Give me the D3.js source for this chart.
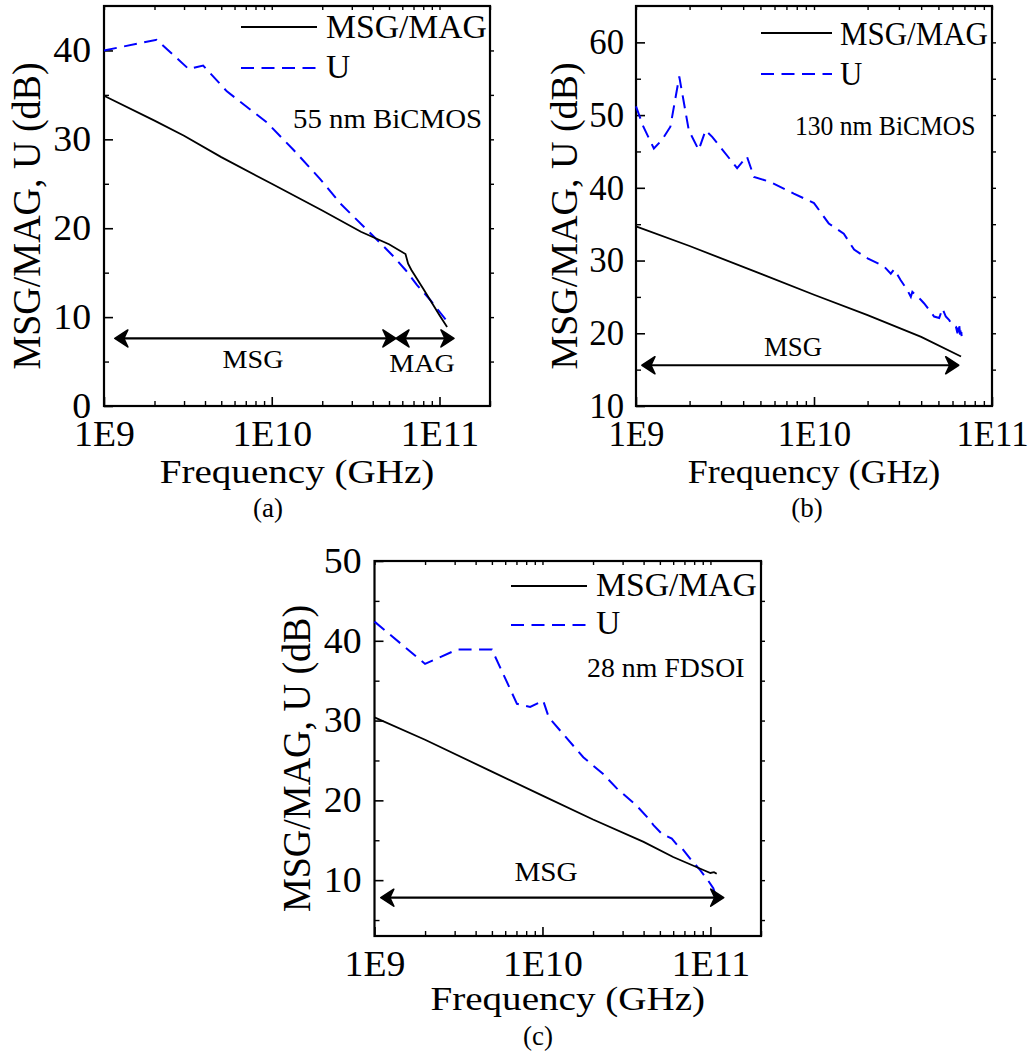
<!DOCTYPE html>
<html><head><meta charset="utf-8">
<script src="https://cdn.jsdelivr.net/npm/d3@7"></script>
<style>html,body{margin:0;padding:0;background:#fff}svg{display:block}</style>
</head><body>
<script>
// ---------------- DATA ----------------
const xTickLabels = ["1E9", "1E10", "1E11"];
const xMajor = [1e9, 1e10, 1e11];

// Panel (a) 55 nm BiCMOS
const aMsgFreq = [1e9, 2e9, 3e9, 5e9, 1e10, 2e10, 3.4e10, 5e10, 6.27e10, 6.5e10, 6.8e10, 8e10, 1e11, 1.11e11];
const aMsgGain = [34.9, 32.1, 30.4, 28.0, 25.0, 22.0, 19.6, 18.2, 17.1, 16.0, 15.3, 13.2, 10.2, 8.9];
const aUFreq = [1e9, 2.06e9, 3.2e9, 3.9e9, 5.4e9, 9.35e9, 1.35e10, 1.95e10, 2.56e10, 3.7e10, 4.65e10, 5.33e10, 6.27e10, 7.35e10, 8.83e10, 1.09e11];
const aUGain = [40.0, 41.2, 37.9, 38.3, 35.4, 31.9, 28.8, 25.5, 22.8, 19.8, 17.95, 16.8, 15.3, 13.6, 11.9, 9.7];
const aYMajor = [0, 10, 20, 30, 40];
const aYMinor = [5, 15, 25, 35];

// Panel (b) 130 nm BiCMOS
const bMsgFreq = [1e9, 2e9, 5e9, 1e10, 2e10, 4e10, 6.7e10];
const bMsgGain = [34.7, 32.0, 28.2, 25.3, 22.5, 19.5, 16.8];
const bUFreq = [1e9, 1.1e9, 1.26e9, 1.4e9, 1.56e9, 1.75e9, 1.98e9, 2.25e9, 2.46e9, 2.68e9, 3.7e9, 4.2e9, 4.6e9, 5.7e9, 7.7e9, 1e10,
  1.21e10, 1.47e10, 1.68e10, 2.0e10, 2.47e10, 2.7e10, 2.82e10, 3.07e10, 3.35e10, 3.5e10, 3.57e10, 3.98e10, 4.16e10, 4.44e10,
  4.73e10, 5.05e10, 5.27e10, 5.5e10, 5.75e10, 6.0e10, 6.27e10, 6.4e10, 6.53e10, 6.62e10, 6.7e10, 6.75e10];
const bUGain = [51.2, 48.4, 45.4, 46.6, 48.4, 55.3, 47.9, 45.2, 47.9, 47.0, 42.7, 44.3, 41.5, 40.8, 39.2, 37.9,
  35.1, 33.7, 31.5, 30.3, 29.2, 28.2, 28.8, 27.3, 25.9, 25.0, 25.7, 24.6, 24.1, 23.2,
  22.3, 22.1, 23.4, 22.3, 21.8, 21.1, 20.9, 20.0, 21.4, 19.8, 20.8, 19.6];
const bYMajor = [10, 20, 30, 40, 50, 60];
const bYMinor = [15, 25, 35, 45, 55];

// Panel (c) 28 nm FDSOI
const cMsgFreq = [1e9, 2e9, 5e9, 1e10, 2e10, 4e10, 6e10, 9e10, 1e11, 1.05e11, 1.09e11];
const cMsgGain = [30.4, 27.6, 23.6, 20.6, 17.6, 14.8, 12.9, 11.3, 10.9, 11.0, 10.8];
const cUFreq = [1e9, 2.0e9, 3.1e9, 5.0e9, 7.05e9, 8.45e9, 1.01e10, 1.09e10, 1.75e10, 2.3e10, 2.77e10, 3.65e10, 4.2e10, 4.58e10,
  5.14e10, 5.89e10, 6.45e10, 6.76e10, 7.57e10, 8.69e10, 9.5e10, 1.04e11, 1.07e11];
const cUGain = [42.4, 37.1, 38.9, 38.9, 32.1, 31.7, 32.5, 30.4, 25.4, 23.3, 21.5, 19.3, 17.9, 16.9,
  15.8, 15.2, 14.2, 14.0, 12.7, 11.25, 10.2, 9.0, 8.2];
const cYMajor = [10, 20, 30, 40, 50];
const cYMinor = [5, 15, 25, 35, 45];

// Range arrows (frequency start, frequency end, level in dB)
const aArrowMSG = [1.16e9, 5.5e10, 7.6];
const aArrowMAG = [5.5e10, 1.22e11, 7.6];
const bArrowMSG = [1.08e9, 6.5e10, 15.6];
const cArrowMSG = [1.09e9, 1.2e11, 7.8];

const legendNames = ["MSG/MAG", "U"];
const panelTitles = ["55 nm BiCMOS", "130 nm BiCMOS", "28 nm FDSOI"];
const panelLetters = ["(a)", "(b)", "(c)"];

// ---------------- DRAW ----------------
const FONT = '"Liberation Serif","Times New Roman",Times,serif';
const W = 1029, H = 1057;
const svg = d3.select("body").append("svg").attr("width", W).attr("height", H)
  .style("font-family", FONT);

function txt(g, x, y, s, size, sx, anchor) {
  return g.append("text").attr("transform", `translate(${x},${y}) scale(${sx},1)`)
    .attr("text-anchor", anchor || "start").attr("font-size", size).attr("fill", "#000").text(s);
}

function arrowHead(g, x, y, dir) {
  g.append("path").attr("d", "M0,0 L-13,-8.5 L-9,0 L-13,8.5 Z")
    .attr("transform", `translate(${x},${y}) rotate(${dir > 0 ? 0 : 180})`)
    .attr("fill", "#000").attr("stroke", "#000").attr("stroke-width", 1.6).attr("stroke-linejoin", "round");
}

function drawPanel(p) {
  const g = svg.append("g");
  const s = p.sx;
  const x = d3.scaleLog().domain(p.xDomain).range([p.left, p.right]);
  const y = d3.scaleLinear().domain(p.yDomain).range([p.bottom, p.top]);
  const minorX = [];
  for (let d = 1e9; d < p.xDomain[1]; d *= 10) for (let k = 2; k <= 9; k++) if (d * k <= p.xDomain[1]) minorX.push(d * k);

  // bottom axis major
  const bx = g.append("g").attr("transform", `translate(0,${p.bottom})`)
    .call(d3.axisBottom(x).tickValues(xMajor).tickFormat((d, i) => xTickLabels[i]).tickSizeInner(-9).tickSizeOuter(0).tickPadding(15));
  bx.select(".domain").remove();
  bx.selectAll("text").attr("font-size", 35).attr("font-family", FONT).attr("fill", "#000").attr("transform", `scale(${1.08 * s},1)`);
  bx.selectAll("line").attr("stroke-width", 1.6);
  const bxm = g.append("g").attr("transform", `translate(0,${p.bottom})`)
    .call(d3.axisBottom(x).tickValues(minorX).tickFormat("").tickSizeInner(-5).tickSizeOuter(0));
  bxm.select(".domain").remove(); bxm.selectAll("line").attr("stroke-width", 1.4);
  // top axis
  const tx = g.append("g").attr("transform", `translate(0,${p.top})`)
    .call(d3.axisTop(x).tickValues(xMajor.concat(minorX)).tickFormat("").tickSizeInner(-4).tickSizeOuter(0));
  tx.select(".domain").remove(); tx.selectAll("line").attr("stroke-width", 1.4);

  // left axis
  const ly = g.append("g").attr("transform", `translate(${p.left},0)`)
    .call(d3.axisLeft(y).tickValues(p.yMajor).tickFormat(d3.format("d")).tickSizeInner(-9).tickSizeOuter(0).tickPadding(12));
  ly.select(".domain").remove();
  ly.selectAll("text").attr("font-size", 35).attr("font-family", FONT).attr("fill", "#000").attr("transform", `scale(${1.08 * s},1)`);
  ly.selectAll("line").attr("stroke-width", 1.6);
  const lym = g.append("g").attr("transform", `translate(${p.left},0)`)
    .call(d3.axisLeft(y).tickValues(p.yMinor).tickFormat("").tickSizeInner(-5).tickSizeOuter(0));
  lym.select(".domain").remove(); lym.selectAll("line").attr("stroke-width", 1.4);
  // right axis
  const ry = g.append("g").attr("transform", `translate(${p.right},0)`)
    .call(d3.axisRight(y).tickValues(p.yMajor.concat(p.yMinor).filter(v => v > p.yDomain[0] && v < p.yDomain[1])).tickFormat("").tickSizeInner(4).tickSizeOuter(0));
  ry.select(".domain").remove(); ry.selectAll("line").attr("stroke-width", 1.4);

  // frame
  g.append("rect").attr("x", p.left).attr("y", p.top).attr("width", p.right - p.left).attr("height", p.bottom - p.top)
    .attr("fill", "none").attr("stroke", "#000").attr("stroke-width", 2.2);

  // curves
  const line = d3.line().x(d => x(d[0])).y(d => y(d[1]));
  g.append("path").datum(p.uF.map((f, i) => [f, p.uG[i]])).attr("d", line)
    .attr("fill", "none").attr("stroke", "#0000ff").attr("stroke-width", 2).attr("stroke-dasharray", "13,7.5");
  g.append("path").datum(p.msgF.map((f, i) => [f, p.msgG[i]])).attr("d", line)
    .attr("fill", "none").attr("stroke", "#000").attr("stroke-width", 1.8);

  // range arrows
  p.arrows.forEach(a => {
    const x1 = x(a[0]), x2 = x(a[1]), yy = y(a[2]);
    g.append("line").attr("x1", x1 + 4).attr("x2", x2 - 4).attr("y1", yy).attr("y2", yy)
      .attr("stroke", "#000").attr("stroke-width", 2.2);
    arrowHead(g, x1, yy, -1);
    arrowHead(g, x2, yy, 1);
  });
  p.rangeLabels.forEach(l => txt(g, l.x, l.y, l.t, l.size, 1.08 * s, "middle"));

  // legend
  g.append("line").attr("x1", p.leg.x1).attr("x2", p.leg.x2).attr("y1", p.leg.y1).attr("y2", p.leg.y1)
    .attr("stroke", "#000").attr("stroke-width", 2);
  g.append("line").attr("x1", p.leg.x1).attr("x2", p.leg.x2).attr("y1", p.leg.y2).attr("y2", p.leg.y2)
    .attr("stroke", "#0000ff").attr("stroke-width", 2).attr("stroke-dasharray", "13,7.5");
  txt(g, p.leg.tx, p.leg.b1, legendNames[0], 33, 1.02 * s);
  txt(g, p.leg.tx, p.leg.b2, legendNames[1], 33, 1.02 * s);
  // annotation
  txt(g, p.ann.x, p.ann.y, p.title, p.ann.size, 1.03 * s);

  // axis titles
  const cx = (p.left + p.right) / 2;
  txt(g, cx, p.xTitleY, "Frequency (GHz)", 34, 1.15 * s, "middle");
  g.append("text").attr("transform", `translate(${p.yTitleX},${(p.top + p.bottom) / 2 + 10}) rotate(-90) scale(1,${1.06 * s})`)
    .attr("text-anchor", "middle").attr("font-size", 38).attr("fill", "#000").text("MSG/MAG, U (dB)");
  txt(g, p.letter.x, p.letter.y, p.letter.t, 27, 1.0, "middle");
}

drawPanel({
  sx: 1.0,
  left: 104, right: 490, top: 6, bottom: 406, xDomain: [1e9, 2e11], yDomain: [0, 45],
  yMajor: aYMajor, yMinor: aYMinor, msgF: aMsgFreq, msgG: aMsgGain, uF: aUFreq, uG: aUGain,
  arrows: [aArrowMSG, aArrowMAG],
  rangeLabels: [{x: 253, y: 368, t: "MSG", size: 26}, {x: 422, y: 372, t: "MAG", size: 26}],
  leg: {x1: 241, x2: 317, y1: 27, y2: 68, tx: 326, b1: 38, b2: 78},
  ann: {x: 293, y: 128, size: 28}, title: panelTitles[0],
  xTitleY: 483, yTitleX: 40, letter: {x: 268, y: 517, t: panelLetters[0]}
});
drawPanel({
  sx: 0.92,
  left: 636, right: 992, top: 6, bottom: 406, xDomain: [1e9, 1e11], yDomain: [10, 65],
  yMajor: bYMajor, yMinor: bYMinor, msgF: bMsgFreq, msgG: bMsgGain, uF: bUFreq, uG: bUGain,
  arrows: [bArrowMSG],
  rangeLabels: [{x: 793, y: 356, t: "MSG", size: 27}],
  leg: {x1: 761, x2: 832, y1: 33, y2: 74, tx: 840, b1: 45, b2: 85},
  ann: {x: 795, y: 135, size: 27}, title: panelTitles[1],
  xTitleY: 483, yTitleX: 577, letter: {x: 807, y: 517, t: panelLetters[1]}
});
drawPanel({
  sx: 1.0,
  left: 374.5, right: 761, top: 561, bottom: 936, xDomain: [1e9, 2e11], yDomain: [3, 50],
  yMajor: cYMajor, yMinor: cYMinor, msgF: cMsgFreq, msgG: cMsgGain, uF: cUFreq, uG: cUGain,
  arrows: [cArrowMSG],
  rangeLabels: [{x: 546, y: 881, t: "MSG", size: 27}],
  leg: {x1: 511, x2: 587, y1: 586, y2: 625, tx: 596, b1: 596, b2: 634},
  ann: {x: 587, y: 677, size: 27}, title: panelTitles[2],
  xTitleY: 1010, yTitleX: 310, letter: {x: 538, y: 1045, t: panelLetters[2]}
});
</script>
</body></html>
